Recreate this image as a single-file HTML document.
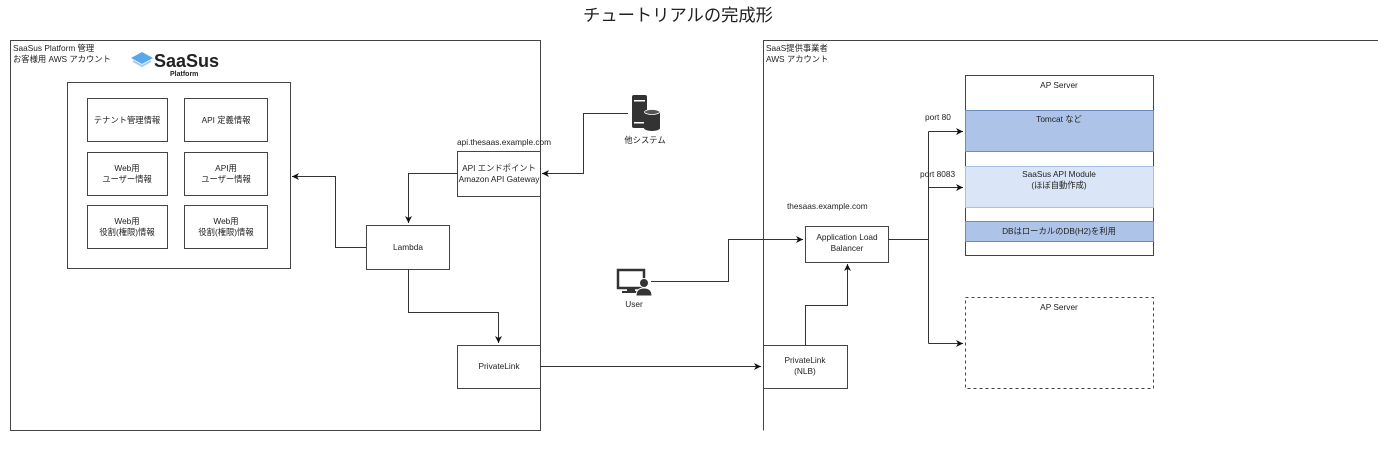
<!DOCTYPE html>
<html><head><meta charset="utf-8"><style>
body{margin:0;background:#fff;}
svg text{font-family:"Liberation Sans","Noto Sans CJK JP",sans-serif;fill:#222;}
</style></head><body>
<svg width="1378" height="444" viewBox="0 0 1378 444" xmlns="http://www.w3.org/2000/svg">
<defs><marker id="a" markerWidth="8" markerHeight="8" refX="7" refY="4" orient="auto" markerUnits="userSpaceOnUse"><path d="M0,0.5 L7,4 L0,7.5 L2,4 Z" fill="#111"/></marker></defs>
<text x="678" y="21" font-size="17.3" text-anchor="middle">チュートリアルの完成形</text>
<g fill="none" stroke="#444" stroke-width="1">
<rect x="10.5" y="40.5" width="530" height="390"/>
<rect x="67.5" y="82.5" width="223" height="186"/>
<rect x="87.5" y="98.5" width="80" height="43"/><rect x="184.5" y="98.5" width="83" height="43"/>
<rect x="87.5" y="152.5" width="80" height="43"/><rect x="184.5" y="152.5" width="83" height="43"/>
<rect x="87.5" y="205.5" width="80" height="43"/><rect x="184.5" y="205.5" width="83" height="43"/>
<rect x="457.5" y="151.5" width="83" height="45"/>
<rect x="366.5" y="225.5" width="83" height="44"/>
<rect x="457.5" y="345.5" width="83" height="43"/>
<path d="M763.5 430.5 V40.5 H1378"/>
<rect x="763.5" y="345.5" width="84" height="43"/>
<rect x="805.5" y="226.5" width="83" height="36"/>
<rect x="965.5" y="75.5" width="188" height="180"/>
<rect x="965.5" y="297.5" width="188" height="91" stroke-dasharray="3,3"/>
</g>
<rect x="965.5" y="110.5" width="188" height="41" fill="#aec3e8" stroke="#6c8ebf"/>
<rect x="965.5" y="166.5" width="188" height="41" fill="#dae6f8" stroke="#a9c1e6"/>
<rect x="965.5" y="221.5" width="188" height="20" fill="#aec3e8" stroke="#6c8ebf"/>
<g fill="none" stroke="#333" stroke-width="1">
<path d="M628 113.5 H583.5 V173.5 H542" marker-end="url(#a)"/>
<path d="M457 173.5 H408.5 V223" marker-end="url(#a)"/>
<path d="M366 247.5 H335.5 V176.5 H292" marker-end="url(#a)"/>
<path d="M408.5 269 V312.5 H498.5 V343" marker-end="url(#a)"/>
<path d="M540 366.5 H761" marker-end="url(#a)"/>
<path d="M805.5 345 V305.5 H847.5 V264" marker-end="url(#a)"/>
<path d="M651 281.5 H728.5 V239.5 H803" marker-end="url(#a)"/>
<path d="M888 239.5 H928.5"/>
<path d="M928.5 131.5 V343.5"/>
<path d="M928.5 131.5 H963" marker-end="url(#a)"/>
<path d="M928.5 187.5 H963" marker-end="url(#a)"/>
<path d="M928.5 343.5 H963" marker-end="url(#a)"/>
</g>
<g font-size="8.3">
<text x="13" y="51">SaaSus Platform 管理</text>
<text x="13" y="62">お客様用 AWS アカウント</text>
<text x="766" y="51">SaaS提供事業者</text>
<text x="766" y="62">AWS アカウント</text>
<g text-anchor="middle">
<text x="127" y="123">テナント管理情報</text><text x="226" y="123">API 定義情報</text>
<text x="127" y="171">Web用</text><text x="127" y="182">ユーザー情報</text>
<text x="226" y="171">API用</text><text x="226" y="182">ユーザー情報</text>
<text x="127" y="224">Web用</text><text x="127" y="235">役割(権限)情報</text>
<text x="226" y="224">Web用</text><text x="226" y="235">役割(権限)情報</text>
<text x="499" y="171">API エンドポイント</text><text x="499" y="182">Amazon API Gateway</text>
<text x="408" y="250">Lambda</text>
<text x="499" y="369">PrivateLink</text>
<text x="805" y="363">PrivateLink</text><text x="805" y="374">(NLB)</text>
<text x="847" y="240">Application Load</text><text x="847" y="251">Balancer</text>
<text x="1059" y="88">AP Server</text>
<text x="1059" y="122">Tomcat など</text>
<text x="1059" y="177">SaaSus API Module</text><text x="1059" y="188">(ほぼ自動作成)</text>
<text x="1059" y="234">DBはローカルのDB(H2)を利用</text>
<text x="1059" y="310">AP Server</text>
<text x="645" y="143">他システム</text>
<text x="634" y="307">User</text>
</g>
<text x="457" y="145">api.thesaas.example.com</text>
<text x="787" y="209">thesaas.example.com</text>
<text x="925" y="120">port 80</text>
<text x="920" y="177">port 8083</text>
</g>
<path d="M131 58 L142 52 L153 58 L142 64 Z" fill="#5aa8e8"/>
<path d="M133 61 L142 66 L151 61" fill="none" stroke="#9fcdf2" stroke-width="2"/>
<text x="154" y="67" font-size="18" font-weight="bold">SaaSus</text>
<text x="170" y="76" font-size="7" font-weight="bold">Platform</text>
<rect x="632" y="95" width="15" height="33" rx="2" fill="#333"/>
<rect x="634" y="100" width="11" height="1.5" fill="#fff"/><rect x="634" y="122" width="11" height="1.5" fill="#fff"/>
<rect x="644" y="112" width="16" height="16" fill="#333"/>
<ellipse cx="652" cy="128" rx="8" ry="3" fill="#333"/>
<ellipse cx="652" cy="112" rx="7.5" ry="2.5" fill="#555" stroke="#fff" stroke-width="0.8"/>
<rect x="618" y="270" width="26" height="18" fill="none" stroke="#333" stroke-width="2.5"/>
<rect x="627" y="288" width="8" height="3" fill="#333"/><rect x="622" y="291" width="16" height="2" fill="#333"/>
<circle cx="644" cy="283" r="4.5" fill="#333" stroke="#fff"/>
<path d="M636 296 Q636 288 644 288 Q652 288 652 296 Z" fill="#333" stroke="#fff"/>
</svg>
</body></html>
